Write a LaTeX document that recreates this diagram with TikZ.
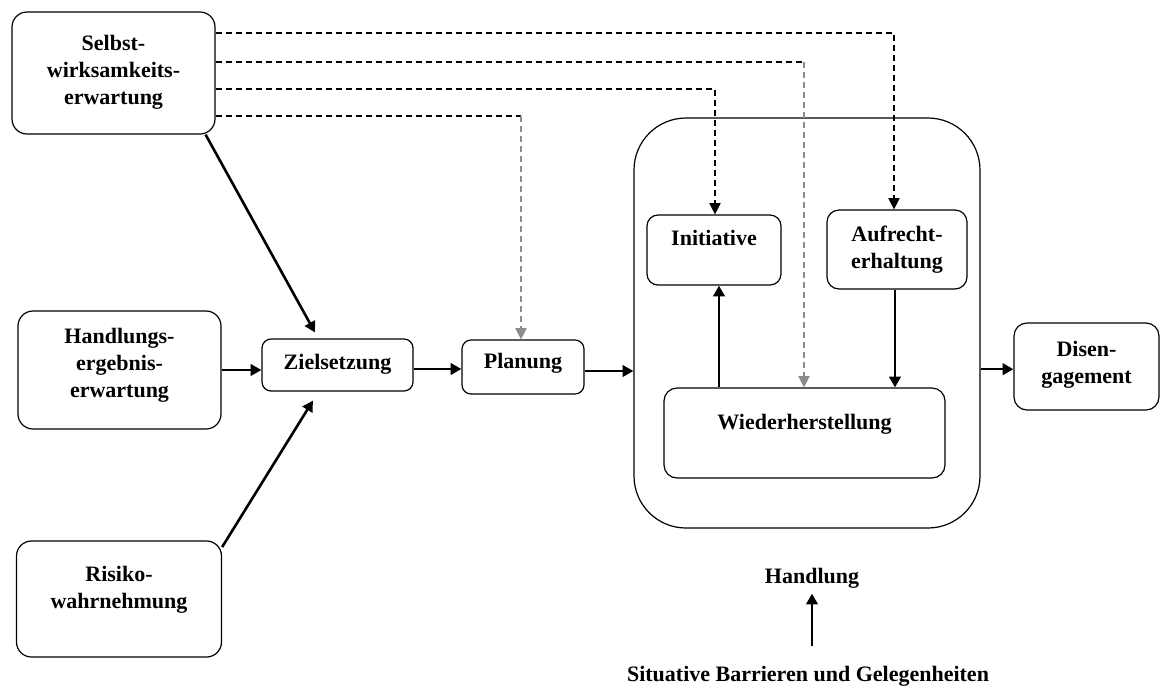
\documentclass[tikz,border=0pt]{standalone}
\usepackage{fontspec}
\setmainfont{Liberation Serif}
\usetikzlibrary{arrows.meta}
\newcommand{\tx}[2][0pt]{\raisebox{#1}[\height][\depth]{\begin{tabular}{@{}c@{}}#2\end{tabular}}}
\tikzset{
  bx/.style n args={3}{draw, line width=0.9pt, rounded corners=#3*0.75pt, inner sep=0pt,
     minimum width=#1*0.75pt, minimum height=#2*0.75pt},
  lbl/.style={inner sep=0pt},
  arr/.style={line width=1.95pt, -{Triangle[length=8pt,width=8.5pt]}},
  dsh/.style={line width=0.9pt, dash pattern=on 4.5pt off 3pt},
  dshgray/.style={dsh, draw=black!45},
  darr/.style={-{Triangle[length=8.5pt,width=8.5pt]}},
}
\begin{document}
\begin{tikzpicture}[x=0.75pt,y=-0.75pt,font=\fontsize{16.5}{20.25}\selectfont\bfseries]
\useasboundingbox (0,0) rectangle (1160,687);
% boxes
\node[bx={203}{122}{15}] (sel) at (113.5,73) {\tx[1pt]{Selbst-\\wirksamkeits-\\erwartung}};
\node[bx={203}{118}{15}] (hand) at (119.5,370) {\tx[4pt]{Handlungs-\\ergebnis-\\erwartung}};
\node[bx={205}{116}{15}] (risk) at (119,599) {\tx[6.75pt]{Risiko-\\wahrnehmung}};
\node[bx={151}{52}{9}] (ziel) at (337.5,365) {\tx[1pt]{Zielsetzung}};
\node[bx={122}{54}{9}] (plan) at (523,367) {\tx[3pt]{Planung}};
\node[bx={346}{410}{52}] (cont) at (807,323) {};
\node[bx={134}{70}{11}] (init) at (714,250) {\tx[7.5pt]{Initiative}};
\node[bx={140}{79}{12}] (auf) at (897,249.5) {\tx{Aufrecht-\\erhaltung}};
\node[bx={281}{90}{13}] (wied) at (804.5,433) {\tx[6.75pt]{Wiederherstellung}};
\node[bx={145}{87}{13}] (dis) at (1086.5,366.5) {\tx[1.5pt]{Disen-\\gagement}};
\node[lbl] (hl) at (812,578) {Handlung};
\node[lbl] (situ) at (808,676) {Situative Barrieren und Gelegenheiten};
% solid arrows
\draw[arr] ([xshift=-7.5pt]sel.south east) -- ([xshift=-16.9pt,yshift=4.5pt]ziel.north);
\draw[arr] ([yshift=-5pt]risk.north east) -- ([xshift=-18.4pt,yshift=-6.75pt]ziel.south);
\draw[arr] (hand.east) -- (hand.east -| ziel.west);
\draw[arr] ([yshift=-3pt]ziel.east) -- ([yshift=-3pt]ziel.east -| plan.west);
\draw[arr] ([yshift=-3pt]plan.east) -- ([yshift=-3pt]plan.east -| cont.west);
\draw[arr] ([yshift=-2pt]dis.west -| cont.east) -- ([yshift=-2pt]dis.west);
\draw[arr] ([xshift=3.75pt]init.south |- wied.north) -- ([xshift=3.75pt]init.south);
\draw[arr] ([xshift=-1.5pt]auf.south) -- ([xshift=-1.5pt]auf.south |- wied.north);
\draw[arr] ([yshift=14.5pt]situ.north -| hl.south) -- ([yshift=-4pt]hl.south);
% dashed connectors
\coordinate (c1) at (894,33);
\coordinate (c2) at (804,62);
\coordinate (c3) at (715,89);
\coordinate (c4) at (521,116);
\draw[dsh,darr] (sel.east |- c1) -| (c1 |- auf.north);
\draw[dsh] (sel.east |- c2) -- (c2);
\draw[dshgray,darr] (c2) -- (c2 |- wied.north);
\draw[dsh,darr] (sel.east |- c3) -| (c3 |- init.north);
\draw[dsh] (sel.east |- c4) -- (c4);
\draw[dshgray,darr] (c4) -- (c4 |- plan.north);
\end{tikzpicture}
\end{document}
